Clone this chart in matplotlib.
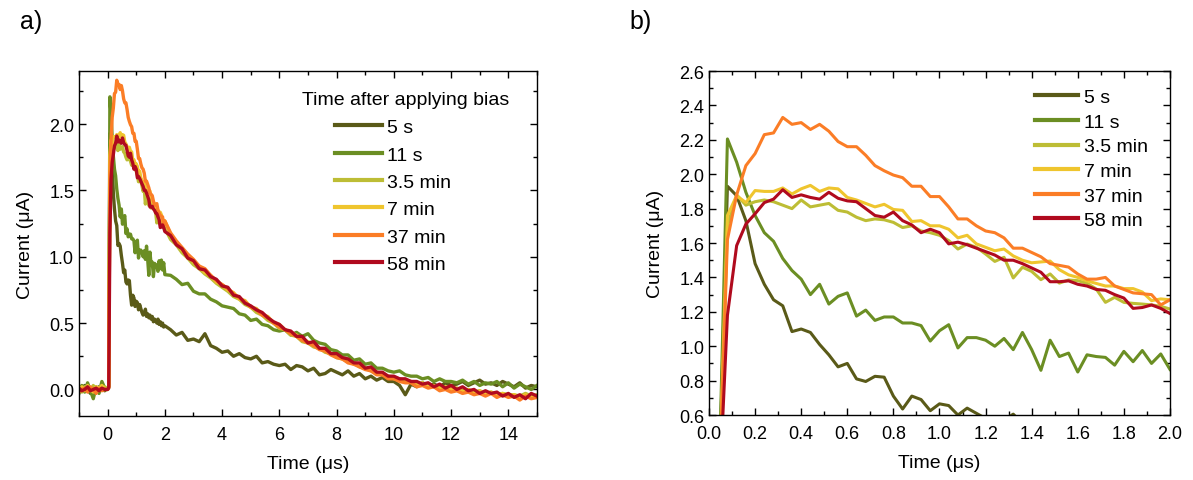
import numpy as np
import matplotlib
matplotlib.use("Agg")
import matplotlib.pyplot as plt
from matplotlib.ticker import MultipleLocator

plt.rcParams["font.family"] = ["Liberation Sans", "DejaVu Sans"]

# -----------------------------------------------------------------------------
# Data (current in uA)
# -----------------------------------------------------------------------------
labels = ["5 s", "11 s", "3.5 min", "7 min", "37 min", "58 min"]
colors = ["#5a5a18", "#6b8e23", "#bdbd35", "#efc52e", "#fb7d26", "#b00a1e"]

# baseline before the bias pulse, t = -1.0 ... -0.1 us
t_pre = np.round(np.arange(-1.0, -0.05, 0.1), 2)
pre_5s = [0.02, -0.01, 0.03, 0.00, -0.03, 0.01, -0.02, 0.02, 0.00, -0.01]
pre_11s = [-0.03, 0.03, -0.02, 0.05, -0.01, -0.07, 0.02, -0.03, 0.06, 0.01]
pre_3p5min = [0.01, -0.02, 0.02, 0.00, -0.01, 0.03, -0.02, 0.01, 0.00, 0.02]
pre_7min = [0.00, 0.02, -0.01, 0.03, 0.00, -0.02, 0.02, 0.01, 0.03, 0.00]
pre_37min = [-0.02, 0.00, 0.01, -0.02, 0.02, 0.00, -0.03, 0.01, -0.01, 0.00]
pre_58min = [0.01, -0.01, 0.00, 0.02, -0.01, 0.00, 0.01, -0.01, 0.01, 0.00]

# fast part, t = 0.00 ... 2.00 us every 0.04 us (panel b)
t_fast = np.round(np.arange(0.0, 2.001, 0.04), 2)
fast_5s = [0.01, 0.02, 1.93, 1.875, 1.73, 1.48, 1.36, 1.27, 1.235, 1.085,
           1.10, 1.08, 1.01, 0.95, 0.88, 0.90, 0.81, 0.795, 0.825, 0.82,
           0.71, 0.635, 0.71, 0.69, 0.625, 0.665, 0.655, 0.60, 0.64, 0.61,
           0.58, 0.56, 0.57, 0.605, 0.55, 0.57, 0.54, 0.56, 0.53, 0.55,
           0.51, 0.53, 0.52, 0.50, 0.53, 0.49, 0.51, 0.48, 0.50, 0.47,
           0.48]
fast_11s = [0.00, 0.03, 2.205, 2.07, 1.895, 1.76, 1.66, 1.61, 1.51, 1.44,
            1.39, 1.30, 1.36, 1.245, 1.29, 1.31, 1.175, 1.21, 1.15, 1.17,
            1.17, 1.135, 1.135, 1.12, 1.03, 1.09, 1.125, 0.99, 1.05, 1.05,
            1.035, 1.00, 1.045, 0.98, 1.08, 0.98, 0.86, 1.035, 0.94, 0.96,
            0.85, 0.95, 0.94, 0.935, 0.89, 0.97, 0.91, 0.975, 0.90, 0.955,
            0.865]
fast_3p5min = [0.00, 0.02, 1.70, 1.88, 1.82, 1.84, 1.85, 1.84, 1.82, 1.80,
               1.85, 1.81, 1.82, 1.83, 1.79, 1.78, 1.75, 1.73, 1.74, 1.735,
               1.72, 1.69, 1.70, 1.67, 1.66, 1.645, 1.614, 1.565, 1.594, 1.575,
               1.536, 1.493, 1.517, 1.397, 1.459, 1.435, 1.387, 1.42, 1.367, 1.385,
               1.381, 1.366, 1.333, 1.255, 1.284, 1.255, 1.249, 1.245, 1.24, 1.232,
               1.216]
fast_7min = [0.00, 0.01, 1.76, 1.875, 1.835, 1.905, 1.90, 1.90, 1.92, 1.885,
             1.915, 1.935, 1.90, 1.92, 1.915, 1.865, 1.85, 1.83, 1.81, 1.825,
             1.795, 1.79, 1.725, 1.73, 1.70, 1.70, 1.68, 1.63, 1.645, 1.595,
             1.575, 1.555, 1.565, 1.525, 1.50, 1.485, 1.49, 1.495, 1.445, 1.415,
             1.40, 1.38, 1.365, 1.35, 1.35, 1.335, 1.335, 1.315, 1.265, 1.275,
             1.27]
fast_37min = [0.00, 0.02, 1.62, 1.88, 2.05, 2.12, 2.23, 2.24, 2.33, 2.29,
              2.30, 2.26, 2.29, 2.25, 2.19, 2.16, 2.16, 2.11, 2.05, 2.02,
              1.995, 1.98, 1.93, 1.93, 1.87, 1.87, 1.81, 1.74, 1.74, 1.70,
              1.67, 1.66, 1.63, 1.57, 1.57, 1.545, 1.52, 1.48, 1.47, 1.46,
              1.42, 1.39, 1.39, 1.40, 1.35, 1.33, 1.31, 1.305, 1.30, 1.24,
              1.27]
fast_58min = [0.00, 0.01, 1.18, 1.585, 1.71, 1.77, 1.835, 1.855, 1.91, 1.865,
              1.88, 1.865, 1.855, 1.895, 1.86, 1.845, 1.84, 1.80, 1.76, 1.75,
              1.78, 1.73, 1.705, 1.66, 1.68, 1.66, 1.595, 1.605, 1.59, 1.57,
              1.55, 1.53, 1.50, 1.50, 1.48, 1.455, 1.43, 1.375, 1.375, 1.38,
              1.36, 1.35, 1.33, 1.325, 1.30, 1.28, 1.22, 1.225, 1.24, 1.22,
              1.19]

# slow tail, t = 2.2 ... 15.0 us every 0.2 us
t_tail = np.round(np.arange(2.2, 15.001, 0.2), 2)
tail_5s = [0.45, 0.41, 0.43, 0.37, 0.38, 0.36, 0.42, 0.33, 0.31, 0.28,
           0.29, 0.25, 0.27, 0.24, 0.23, 0.25, 0.20, 0.21, 0.19, 0.18,
           0.19, 0.15, 0.18, 0.17, 0.14, 0.16, 0.11, 0.12, 0.15, 0.13,
           0.11, 0.14, 0.10, 0.12, 0.08, 0.10, 0.07, 0.09, 0.06, 0.06,
           0.03, -0.04, 0.04, 0.02, 0.05, 0.03, 0.04, 0.02, 0.05, 0.03,
           0.04, 0.06, 0.03, 0.05, 0.07, 0.04, 0.05, 0.03, 0.06, 0.04,
           0.02, 0.05, 0.01, 0.03, 0.02]
tail_11s = [0.86, 0.83, 0.79, 0.80, 0.74, 0.72, 0.72, 0.68, 0.66, 0.63,
            0.62, 0.61, 0.57, 0.56, 0.52, 0.53, 0.49, 0.48, 0.45, 0.44,
            0.45, 0.41, 0.43, 0.40, 0.42, 0.37, 0.35, 0.34, 0.30, 0.29,
            0.26, 0.26, 0.22, 0.23, 0.19, 0.20, 0.16, 0.16, 0.14, 0.13,
            0.14, 0.11, 0.10, 0.10, 0.08, 0.09, 0.06, 0.08, 0.06, 0.06,
            0.05, 0.07, 0.04, 0.06, 0.03, 0.05, 0.04, 0.06, 0.02, 0.05,
            0.01, 0.04, 0.02, 0.00, 0.03]
tail_3p5min = [1.13, 1.09, 1.03, 0.99, 0.94, 0.91, 0.87, 0.84, 0.80, 0.77,
               0.74, 0.70, 0.68, 0.64, 0.62, 0.58, 0.56, 0.52, 0.50, 0.46,
               0.45, 0.41, 0.40, 0.36, 0.35, 0.32, 0.31, 0.28, 0.27, 0.24,
               0.23, 0.21, 0.20, 0.17, 0.16, 0.14, 0.13, 0.11, 0.10, 0.08,
               0.08, 0.06, 0.06, 0.04, 0.04, 0.03, 0.03, 0.01, 0.02, 0.00,
               0.01, -0.01, 0.00, -0.02, -0.01, -0.03, -0.02, -0.04, -0.03, -0.04,
               -0.04, -0.05, -0.03, -0.05, -0.04]
tail_7min = [1.17, 1.11, 1.05, 1.01, 0.96, 0.93, 0.88, 0.86, 0.81, 0.79,
             0.75, 0.73, 0.68, 0.67, 0.62, 0.61, 0.56, 0.55, 0.50, 0.49,
             0.45, 0.43, 0.41, 0.38, 0.36, 0.34, 0.31, 0.30, 0.27, 0.26,
             0.23, 0.22, 0.19, 0.19, 0.16, 0.15, 0.13, 0.12, 0.10, 0.09,
             0.08, 0.06, 0.06, 0.04, 0.05, 0.02, 0.03, 0.01, 0.02, 0.00,
             0.01, -0.02, 0.00, -0.03, -0.01, -0.04, -0.02, -0.04, -0.03, -0.05,
             -0.04, -0.06, -0.04, -0.06, -0.05]
tail_37min = [1.18, 1.12, 1.07, 1.02, 0.98, 0.93, 0.91, 0.86, 0.82, 0.79,
              0.76, 0.72, 0.69, 0.66, 0.62, 0.60, 0.56, 0.54, 0.50, 0.47,
              0.45, 0.42, 0.40, 0.37, 0.35, 0.33, 0.30, 0.29, 0.26, 0.24,
              0.23, 0.20, 0.19, 0.17, 0.15, 0.14, 0.11, 0.11, 0.08, 0.08,
              0.06, 0.05, 0.05, 0.02, 0.03, 0.01, 0.02, -0.01, 0.00, -0.02,
              -0.01, -0.03, -0.02, -0.04, -0.03, -0.05, -0.03, -0.06, -0.04, -0.06,
              -0.05, -0.08, -0.05, -0.07, -0.06]
tail_58min = [1.16, 1.09, 1.06, 0.99, 0.97, 0.91, 0.90, 0.85, 0.83, 0.78,
              0.77, 0.71, 0.70, 0.65, 0.63, 0.60, 0.58, 0.54, 0.51, 0.49,
              0.45, 0.44, 0.40, 0.40, 0.35, 0.36, 0.31, 0.31, 0.27, 0.27,
              0.24, 0.23, 0.20, 0.20, 0.16, 0.17, 0.13, 0.13, 0.10, 0.10,
              0.08, 0.08, 0.06, 0.06, 0.04, 0.05, 0.02, 0.04, 0.01, 0.03,
              0.00, 0.02, -0.01, 0.00, -0.03, -0.01, -0.03, -0.02, -0.05, -0.03,
              -0.06, -0.04, -0.07, -0.03, -0.05]

pre = [pre_5s, pre_11s, pre_3p5min, pre_7min, pre_37min, pre_58min]
fast = [fast_5s, fast_11s, fast_3p5min, fast_7min, fast_37min, fast_58min]
tail = [tail_5s, tail_11s, tail_3p5min, tail_7min, tail_37min, tail_58min]


# -----------------------------------------------------------------------------
# Plot
# -----------------------------------------------------------------------------
def style_axes(ax):
    ax.tick_params(which="both", direction="in", top=True, right=True,
                   labelsize=13, width=1.0)
    ax.tick_params(which="major", length=5)
    ax.tick_params(which="minor", length=3)
    ax.tick_params(axis="x", which="both", pad=7)
    for sp in ax.spines.values():
        sp.set_linewidth(1.0)


fig = plt.figure(figsize=(11.93, 4.81), dpi=100)
ax_a = fig.add_axes([0.0662, 0.1331, 0.3839, 0.7173])
ax_b = fig.add_axes([0.5943, 0.1351, 0.3864, 0.7152])

t_all = np.concatenate([t_pre, t_fast, t_tail])
for lab, col, p, f, tl in zip(labels, colors, pre, fast, tail):
    y_all = np.concatenate([p, f, tl])
    ax_a.plot(t_all, y_all, color=col, lw=2.4, label=lab)
    ax_b.plot(t_fast, f, color=col, lw=2.2, label=lab)

# panel a
ax_a.set_xlim(-1, 15)
ax_a.set_ylim(-0.2, 2.4)
ax_a.xaxis.set_major_locator(MultipleLocator(2))
ax_a.xaxis.set_minor_locator(MultipleLocator(1))
ax_a.yaxis.set_major_locator(MultipleLocator(0.5))
ax_a.yaxis.set_minor_locator(MultipleLocator(0.25))
ax_a.set_xlabel("Time (\u03bcs)", fontsize=14, labelpad=9)
ax_a.set_ylabel("Current (\u03bcA)", fontsize=14, labelpad=11)
style_axes(ax_a)
ax_a.text(0.487, 0.916, "Time after applying bias", transform=ax_a.transAxes,
          fontsize=14, ha="left", va="center")
leg_a = ax_a.legend(loc="upper left", bbox_to_anchor=(0.559, 0.862),
                    frameon=False, fontsize=14, handlelength=2.4,
                    handletextpad=0.3, labelspacing=0.5, borderpad=0,
                    borderaxespad=0)
for ln in leg_a.get_lines():
    ln.set_linewidth(3.0)

# panel b
ax_b.set_xlim(0, 2)
ax_b.set_ylim(0.6, 2.6)
ax_b.xaxis.set_major_locator(MultipleLocator(0.2))
ax_b.xaxis.set_minor_locator(MultipleLocator(0.1))
ax_b.yaxis.set_major_locator(MultipleLocator(0.2))
ax_b.yaxis.set_minor_locator(MultipleLocator(0.1))
ax_b.set_xlabel("Time (\u03bcs)", fontsize=14, labelpad=9)
ax_b.set_ylabel("Current (\u03bcA)", fontsize=14, labelpad=11)
style_axes(ax_b)
leg_b = ax_b.legend(loc="upper right", bbox_to_anchor=(0.99, 1.0),
                    frameon=False, fontsize=14, handlelength=2.2,
                    handletextpad=0.3, labelspacing=0.36)
for ln in leg_b.get_lines():
    ln.set_linewidth(3.0)

fig.text(0.017, 0.955, "a)", fontsize=18, va="center", ha="left")
fig.text(0.528, 0.955, "b)", fontsize=18, va="center", ha="left")

fig.savefig("out.png", dpi=100)
